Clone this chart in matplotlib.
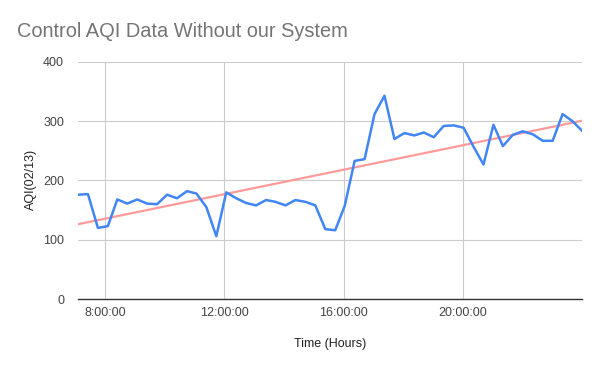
#!/usr/bin/env python3
"""Wykres AQI dla grupy kontrolnej (bez systemu) z linia trendu."""

from datetime import datetime

import matplotlib
matplotlib.use("Agg")
import matplotlib.pyplot as plt
import matplotlib.dates as mdates
import numpy as np

TITLE = "Control AQI Data Without our System"
X_LABEL = "Time (Hours)"
Y_LABEL = "AQI(02/13)"

TIMES = [
    "07:06", "07:26", "07:46", "08:06", "08:25", "08:45", "09:05", "09:25",
    "09:45", "10:05", "10:25", "10:45", "11:04", "11:24", "11:44", "12:04",
    "12:24", "12:44", "13:04", "13:24", "13:43", "14:03", "14:23", "14:43",
    "15:03", "15:23", "15:43", "16:02", "16:22", "16:42", "17:02", "17:22",
    "17:42", "18:02", "18:22", "18:41", "19:01", "19:21", "19:41", "20:01",
    "20:21", "20:41", "21:01", "21:20", "21:40", "22:00", "22:20", "22:40",
    "23:00", "23:20", "23:40", "23:59",
]
AQI = [
    176, 177, 120, 123, 168, 161, 168, 161, 160, 176, 170, 182, 178, 155,
    106, 180, 170, 162, 158, 167, 164, 158, 167, 164, 158, 118, 116, 157,
    233, 236, 312, 343, 270, 280, 276, 281, 273, 292, 293, 289, 257, 227,
    294, 258, 277, 283, 278, 267, 267, 312, 300, 284,
]
Y_TICKS = [0, 100, 200, 300, 400]
X_TICKS = ["08:00", "12:00", "16:00", "20:00"]

times = [datetime.strptime(t, "%H:%M") for t in TIMES]
xnum = mdates.date2num(times)

fig = plt.figure(figsize=(6, 3.71), dpi=100)
ax = fig.add_axes([0.13, 0.194, 0.84, 0.639])

# linia trendu (regresja liniowa)
coef = np.polyfit(xnum, AQI, 1)
ax.plot(xnum, np.polyval(coef, xnum), color="#ff9a9a", linewidth=1.6, zorder=2)
ax.plot(xnum, AQI, color="#4285f4", linewidth=1.8, zorder=3)

ax.set_xlim(xnum[0], xnum[-1])
ax.set_ylim(0, 400)
ax.set_yticks(Y_TICKS)
ax.set_xticks(mdates.date2num([datetime.strptime(t, "%H:%M") for t in X_TICKS]))
ax.xaxis.set_major_formatter(mdates.DateFormatter("%-H:%M:%S"))

font = "Liberation Sans"
for lbl in ax.get_xticklabels() + ax.get_yticklabels():
    lbl.set_fontfamily(font)
    lbl.set_fontsize(9)
    lbl.set_color("#444444")
ax.tick_params(length=0, pad=6)
ax.tick_params(axis="y", pad=10)

ax.grid(True, color="#cccccc", linewidth=0.8)
ax.set_axisbelow(True)
for side in ("top", "right", "left"):
    ax.spines[side].set_visible(False)
ax.spines["bottom"].set_color("#333333")
ax.spines["bottom"].set_linewidth(1)
ax.spines["bottom"].set_zorder(4)

fig.text(0.028, 0.915, TITLE, fontsize=14.4, color="#757575", family=font,
         va="center", ha="left")
fig.text(0.55, 0.073, X_LABEL, fontsize=9, color="#222222", family=font,
         ha="center", va="center")
fig.text(0.052, 0.515, Y_LABEL, fontsize=9, color="#222222", family=font,
         ha="center", va="center", rotation=90)

fig.savefig("out.png", dpi=100)
plt.close(fig)
